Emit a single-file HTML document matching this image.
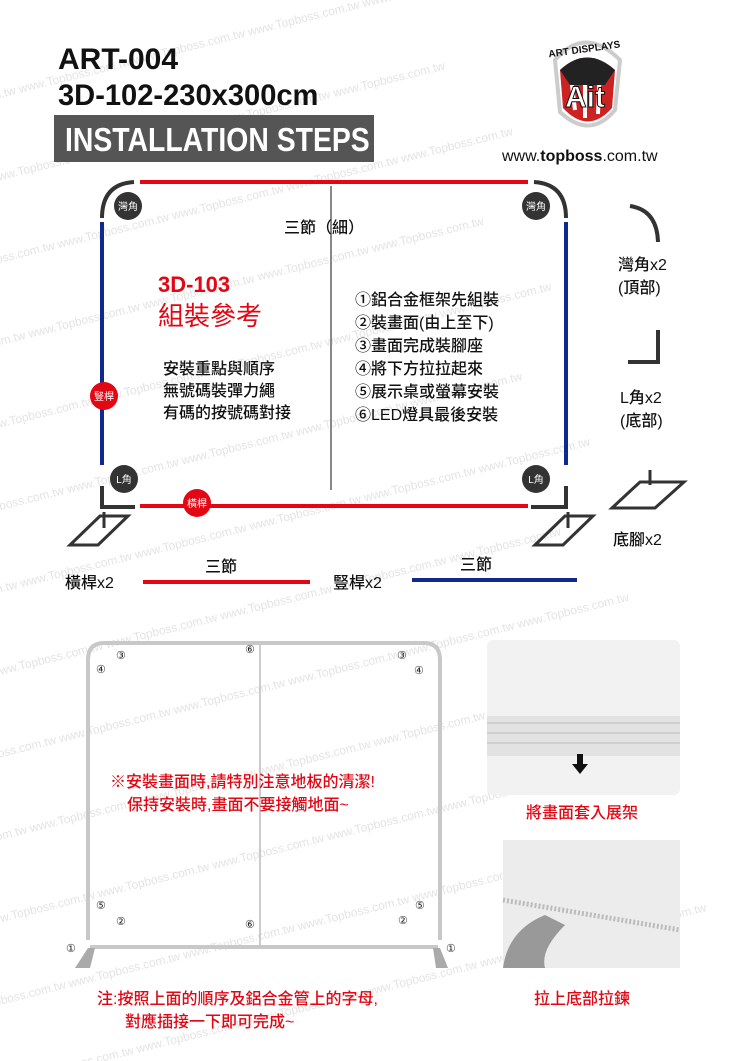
<!DOCTYPE html>
<html style="overflow:hidden;width:750px;height:1061px"><head><meta charset="utf-8"><style>
html,body{margin:0;width:750px;height:1061px;overflow:hidden;background:#fff;font-family:"Liberation Sans","Noto Sans CJK TC",sans-serif}
svg{position:absolute;left:0;top:0;overflow:hidden}
</style></head><body>
<svg width="750" height="1061" viewBox="0 0 750 1061" font-family="Liberation Sans, Noto Sans CJK TC, sans-serif">
<g fill="#e4e4e4" font-size="12" transform="rotate(-14 375 530)">
<text x="-100" y="20">www.Topboss.com.tw   www.Topboss.com.tw   www.Topboss.com.tw   www.Topboss.com.tw   www.Topboss.com.tw   www.Topboss.com.tw</text>
<text x="-150" y="100">www.Topboss.com.tw   www.Topboss.com.tw   www.Topboss.com.tw   www.Topboss.com.tw   www.Topboss.com.tw   www.Topboss.com.tw</text>
<text x="-100" y="180">www.Topboss.com.tw   www.Topboss.com.tw   www.Topboss.com.tw   www.Topboss.com.tw   www.Topboss.com.tw   www.Topboss.com.tw</text>
<text x="-150" y="260">www.Topboss.com.tw   www.Topboss.com.tw   www.Topboss.com.tw   www.Topboss.com.tw   www.Topboss.com.tw   www.Topboss.com.tw</text>
<text x="-100" y="340">www.Topboss.com.tw   www.Topboss.com.tw   www.Topboss.com.tw   www.Topboss.com.tw   www.Topboss.com.tw   www.Topboss.com.tw</text>
<text x="-150" y="420">www.Topboss.com.tw   www.Topboss.com.tw   www.Topboss.com.tw   www.Topboss.com.tw   www.Topboss.com.tw   www.Topboss.com.tw</text>
<text x="-100" y="500">www.Topboss.com.tw   www.Topboss.com.tw   www.Topboss.com.tw   www.Topboss.com.tw   www.Topboss.com.tw   www.Topboss.com.tw</text>
<text x="-150" y="580">www.Topboss.com.tw   www.Topboss.com.tw   www.Topboss.com.tw   www.Topboss.com.tw   www.Topboss.com.tw   www.Topboss.com.tw</text>
<text x="-100" y="660">www.Topboss.com.tw   www.Topboss.com.tw   www.Topboss.com.tw   www.Topboss.com.tw   www.Topboss.com.tw   www.Topboss.com.tw</text>
<text x="-150" y="740">www.Topboss.com.tw   www.Topboss.com.tw   www.Topboss.com.tw   www.Topboss.com.tw   www.Topboss.com.tw   www.Topboss.com.tw</text>
<text x="-100" y="820">www.Topboss.com.tw   www.Topboss.com.tw   www.Topboss.com.tw   www.Topboss.com.tw   www.Topboss.com.tw   www.Topboss.com.tw</text>
<text x="-150" y="900">www.Topboss.com.tw   www.Topboss.com.tw   www.Topboss.com.tw   www.Topboss.com.tw   www.Topboss.com.tw   www.Topboss.com.tw</text>
<text x="-100" y="980">www.Topboss.com.tw   www.Topboss.com.tw   www.Topboss.com.tw   www.Topboss.com.tw   www.Topboss.com.tw   www.Topboss.com.tw</text>
</g>
<!-- header -->
<text transform="translate(58 69) scale(1.0 1)" font-size="30" font-weight="bold" fill="#111">ART-004</text>
<text transform="translate(58 105) scale(0.97 1)" font-size="30" font-weight="bold" fill="#111">3D-102-230x300cm</text>
<rect x="54" y="115" width="320" height="47" fill="#555"/>
<text transform="translate(65 151) scale(0.86 1)" font-size="33" font-weight="bold" fill="#fff">INSTALLATION STEPS</text>
<!-- logo -->
<path d="M555 60 Q585 25 620 60 L615 110 Q590 140 560 112 Z" fill="#fff" stroke="#ccc" stroke-width="4"/>
<path d="M560 70 Q587 45 615 70 L612 108 Q588 135 563 108 Z" fill="#c22"/>
<path d="M570 68 L575 110 M585 62 L585 118 M600 64 L598 114" stroke="#fff" stroke-width="4"/>
<path d="M560 70 Q587 45 615 70 L605 85 L570 85 Z" fill="#222"/>
<text x="565" y="107" font-size="30" font-weight="bold" fill="#fff" stroke="#111" stroke-width="1">Ait</text>
<text x="548" y="52" font-size="10" font-weight="bold" fill="#111" transform="rotate(-8 587 48)">ART DISPLAYS</text>
<text x="502" y="161" font-size="16" fill="#111">www.<tspan font-weight="bold">topboss</tspan>.com.tw</text>
<!-- frame -->
<line x1="140" y1="182" x2="528" y2="182" stroke="#e30613" stroke-width="4"/>
<path d="M102 218 Q102 184 134 182" fill="none" stroke="#333" stroke-width="4"/>
<path d="M566 218 Q566 184 534 182" fill="none" stroke="#333" stroke-width="4"/>
<line x1="102" y1="222" x2="102" y2="465" stroke="#0f2a8c" stroke-width="4"/>
<line x1="566" y1="222" x2="566" y2="465" stroke="#0f2a8c" stroke-width="4"/>
<line x1="331" y1="186" x2="331" y2="490" stroke="#888" stroke-width="2"/>
<path d="M102 486 V507 H135" fill="none" stroke="#333" stroke-width="4"/>
<path d="M566 486 V507 H531" fill="none" stroke="#333" stroke-width="4"/>
<line x1="140" y1="506" x2="528" y2="506" stroke="#e30613" stroke-width="4"/>
<g font-size="10" fill="#fff" text-anchor="middle">
<circle cx="128" cy="206" r="14" fill="#333"/><text x="128" y="210">灣角</text>
<circle cx="536" cy="206" r="14" fill="#333"/><text x="536" y="210">灣角</text>
<circle cx="124" cy="479" r="14" fill="#333"/><text x="124" y="483">L角</text>
<circle cx="536" cy="479" r="14" fill="#333"/><text x="536" y="483">L角</text>
<circle cx="104" cy="396" r="14" fill="#e30613"/><text x="104" y="400">豎桿</text>
<circle cx="197" cy="503" r="14" fill="#e30613"/><text x="197" y="507">橫桿</text>
</g>
<!-- feet -->
<g fill="none" stroke="#333" stroke-width="3">
<path d="M104 512 V528 M70 545 L100 516 H128 L98 545 Z"/>
<path d="M568 512 V528 M535 545 L565 516 H593 L563 545 Z"/>
<path d="M650 470 V485 M612 508 L640 482 H684 L655 508 Z"/>
</g>
<path d="M630 206 Q657 210 658 242" fill="none" stroke="#333" stroke-width="4"/>
<path d="M658 330 V362 H628" fill="none" stroke="#333" stroke-width="4"/>
<g font-size="16" fill="#111" font-weight="500">
<text x="284" y="233">三節（細）</text>
<text x="618" y="270">灣角x2</text><text x="618" y="293">(頂部)</text>
<text x="620" y="403">L角x2</text><text x="620" y="426">(底部)</text>
<text x="613" y="545">底腳x2</text>
<text x="163" y="374">安裝重點與順序</text>
<text x="163" y="396">無號碼裝彈力繩</text>
<text x="163" y="418">有碼的按號碼對接</text>
<text x="355" y="305">①鋁合金框架先組裝</text>
<text x="355" y="328">②裝畫面(由上至下)</text>
<text x="355" y="351">③畫面完成裝腳座</text>
<text x="355" y="374">④將下方拉拉起來</text>
<text x="355" y="397">⑤展示桌或螢幕安裝</text>
<text x="355" y="420">⑥LED燈具最後安裝</text>
<text x="65" y="588">橫桿x2</text><text x="205" y="572">三節</text>
<text x="333" y="588">豎桿x2</text><text x="460" y="570">三節</text>
</g>
<text x="158" y="292" font-size="22" font-weight="bold" fill="#e30613">3D-103</text>
<text x="158" y="325" font-size="26" fill="#e30613">組裝參考</text>
<line x1="143" y1="582" x2="310" y2="582" stroke="#e30613" stroke-width="4"/>
<line x1="412" y1="580" x2="577" y2="580" stroke="#0f2a8c" stroke-width="4"/>
<!-- bottom frame -->
<g fill="none" stroke="#c8c8c8" stroke-width="4">
<path d="M88 940 V660 Q88 643 104 643 H424 Q440 643 440 660 V940"/>
<line x1="90" y1="947" x2="438" y2="947"/>
</g>
<line x1="260" y1="645" x2="260" y2="945" stroke="#bbb" stroke-width="1.5"/>
<path d="M75 968 L88 948 H95 L90 968 Z M448 968 L440 948 H433 L436 968 Z" fill="#aaa"/>
<g font-size="11" fill="#222" font-family="Liberation Serif, serif">
<text x="116" y="659">③</text><text x="96" y="673">④</text><text x="245" y="653">⑥</text>
<text x="397" y="659">③</text><text x="414" y="674">④</text>
<text x="96" y="909">⑤</text><text x="116" y="925">②</text><text x="245" y="928">⑥</text>
<text x="398" y="924">②</text><text x="415" y="909">⑤</text>
<text x="66" y="952">①</text><text x="446" y="952">①</text>
</g>
<g font-size="16" fill="#e30613" font-weight="500">
<text x="110" y="787">※安裝畫面時,請特別注意地板的清潔!</text>
<text x="127" y="810">保持安裝時,畫面不要接觸地面~</text>
<text x="97" y="1004">注:按照上面的順序及鋁合金管上的字母,</text>
<text x="125" y="1027">對應插接一下即可完成~</text>
<text x="526" y="818">將畫面套入展架</text>
<text x="534" y="1004">拉上底部拉鍊</text>
</g>
<!-- photos -->
<rect x="487" y="640" width="193" height="155" rx="6" fill="#f2f2f2"/>
<rect x="487" y="716" width="193" height="40" fill="#e2e2e2"/>
<path d="M487 723 H680 M487 733 H680 M487 743 H680" stroke="#cfcfcf" stroke-width="2"/>
<path d="M577 754 V764 H572 L580 774 L588 764 H583 V754 Z" fill="#111"/>
<rect x="503" y="840" width="177" height="128" fill="#ececec"/>
<path d="M503 900 L680 930" stroke="#bbb" stroke-width="5" stroke-dasharray="2 2"/>
<path d="M503 968 Q508 930 545 915 L565 925 Q540 950 545 968 Z" fill="#999"/>
</svg>
</body></html>
